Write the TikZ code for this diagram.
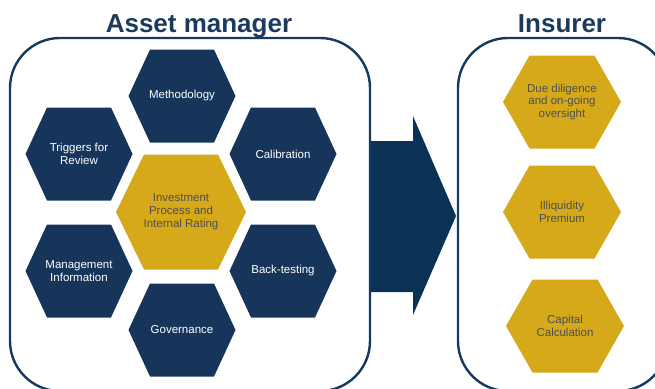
\documentclass[tikz,border=0pt]{standalone}
\usepackage{fontspec}
\setmainfont{Liberation Sans}
\begin{document}
\definecolor{navy}{HTML}{17355B}
\definecolor{deepnavy}{HTML}{0B3155}
\definecolor{frame}{HTML}{153A60}
\definecolor{gold}{HTML}{D5A919}
\definecolor{goldtext}{HTML}{4F4F4F}
\definecolor{titleblue}{HTML}{1B3A5E}
% \hexcell{name}{cx}{cy}{half top edge}{slant}{half height}{colour style}{text}
\newcommand{\hexcell}[8]{%
  \fill[#7] ({#2-#4},{#3-#6}) -- ({#2+#4},{#3-#6}) -- ({#2+#4+#5},#3)
    -- ({#2+#4},{#3+#6}) -- ({#2-#4},{#3+#6}) -- ({#2-#4-#5},#3) -- cycle;
  \node[celltext,#7] (#1) at (#2,#3) {#8};}
\begin{tikzpicture}[x=1pt,y=-1pt,
  celltext/.style={align=center,inner sep=0pt,
    font=\fontsize{11.5}{12.8}\selectfont},
  navycell/.style={fill=navy,text=white},
  goldcell/.style={fill=gold,text=goldtext},
  panel/.style={draw=frame,line width=2.4pt,rounded corners=50pt},
  heading/.style={font=\fontsize{26}{30}\bfseries\selectfont,text=titleblue,
    anchor=base,inner sep=0pt}]
\useasboundingbox (0,0) rectangle (655,388);
\clip (0,0) rectangle (655,388);
% panels
\draw[panel] (10,38) rectangle (370,391);
\draw[panel] (458,38) rectangle (668,391);
\node[heading] (amtitle) at (199,32) {Asset manager};
\node[heading] (institle) at (562,32) {Insurer};
% block arrow between the panels
\fill[deepnavy] (371,141) -- (413,141) -- (413,116) -- (456,216)
  -- (413,315) -- (413,292) -- (371,292) -- cycle;
% asset manager cells
\hexcell{meth}{182}{96}{32}{21.5}{46.5}{navycell}{Methodology}
\hexcell{trig}{79}{154}{32}{21.5}{46.5}{navycell}{Triggers for\\Review}
\hexcell{calib}{283}{154}{32}{21.5}{46.5}{navycell}{Calibration}
\hexcell{invest}{181}{212}{37}{28}{57.5}{goldcell}{Investment\\Process and\\Internal Rating}
\hexcell{mgmt}{79}{271}{32}{21.5}{46.5}{navycell}{Management\\Information}
\hexcell{backt}{283}{271}{32}{21.5}{46.5}{navycell}{Back-testing}
\hexcell{gov}{182}{330}{32}{21.5}{46.5}{navycell}{Governance}
% insurer cells
\hexcell{due}{562}{102}{32.5}{26.5}{46.5}{goldcell}{Due diligence\\and on-going\\oversight}
\hexcell{illiq}{562}{212}{32.5}{26.5}{46.5}{goldcell}{Illiquidity\\Premium}
\hexcell{capital}{565}{326}{32.5}{26.5}{46.5}{goldcell}{Capital\\Calculation}
\end{tikzpicture}
\end{document}
